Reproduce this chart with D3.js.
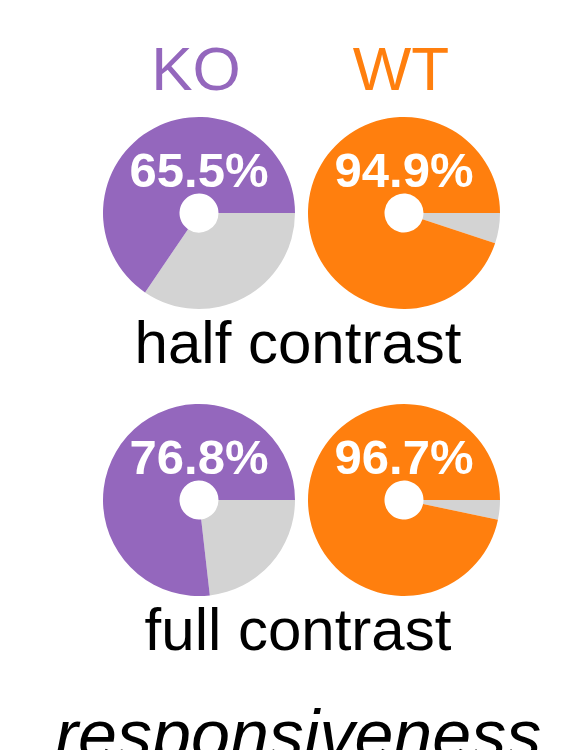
<!DOCTYPE html>
<html>
<head>
<meta charset="utf-8">
<script src="https://cdn.jsdelivr.net/npm/d3@7"></script>
<style>
  body { margin: 0; background: #fff; }
  svg { display: block; font-family: "Liberation Sans", Arial, sans-serif; }
</style>
</head>
<body>
<svg class="chart"></svg>
<script>
// data: % responsive cells
var groups = ["KO", "WT"];
var conditions = ["half contrast", "full contrast"];
var koValues = [65.5, 76.8];
var wtValues = [94.9, 96.7];
var groupColors = ["#9467bd", "#ff7f0e"];
var restColor = "#d3d3d3";

function show() {
    'use strict';

    var width = 564, height = 750;
    var chart = d3.select(".chart")
        .attr("width", width)
        .attr("height", height);

    var x = d3.scalePoint().domain(groups).range([199, 404]);
    var y = d3.scalePoint().domain(conditions).range([213, 500]);
    var color = d3.scaleOrdinal().domain(groups).range(groupColors);

    var radius = 96;
    var fmt = d3.format(".1f");

    // gray (non-responsive) part goes clockwise from 3 o'clock
    var pie = d3.pie()
        .sort(null)
        .startAngle(Math.PI / 2)
        .endAngle(Math.PI / 2 + 2 * Math.PI)
        .value(d => d.v);

    var arc = d3.arc().innerRadius(19.5).outerRadius(radius);

    var cells = [];
    conditions.forEach(function (c, i) {
        cells.push({ group: "KO", cond: c, value: koValues[i] });
        cells.push({ group: "WT", cond: c, value: wtValues[i] });
    });

    // group headers
    chart.selectAll('text.group').data(groups)
      .enter().append('text')
        .attr('class', 'group')
        .attr('x', d => x(d) - 3)
        .attr('y', 90)
        .attr('text-anchor', 'middle')
        .attr('font-size', 62)
        .attr('fill', d => color(d))
        .text(d => d);

    var pies = chart.selectAll('g.pie').data(cells)
      .enter().append('g')
        .attr('class', 'pie')
        .attr('transform', d => 'translate(' + x(d.group) + ',' + y(d.cond) + ')');

    pies.selectAll('path')
        .data(d => pie([
            { v: 100 - d.value, fill: restColor },
            { v: d.value, fill: color(d.group) }
        ]))
      .enter().append('path')
        .attr('d', arc)
        .attr('fill', d => d.data.fill);

    pies.append('text')
        .attr('y', -26)
        .attr('text-anchor', 'middle')
        .attr('font-size', 49)
        .attr('font-weight', 'bold')
        .attr('fill', '#fff')
        .text(d => fmt(d.value) + '%');

    // condition labels under each row
    chart.selectAll('text.cond').data(conditions)
      .enter().append('text')
        .attr('class', 'cond')
        .attr('x', 298)
        .attr('y', d => y(d) + 150)
        .attr('text-anchor', 'middle')
        .attr('font-size', 60)
        .attr('fill', '#000')
        .text(d => d);

    // axis title, cut by the bottom edge as in the source figure
    chart.append('text')
        .attr('x', 298)
        .attr('y', 759)
        .attr('text-anchor', 'middle')
        .attr('font-size', 70)
        .attr('font-style', 'italic')
        .attr('fill', '#000')
        .text('responsiveness');
}
show();
</script>
</body>
</html>
